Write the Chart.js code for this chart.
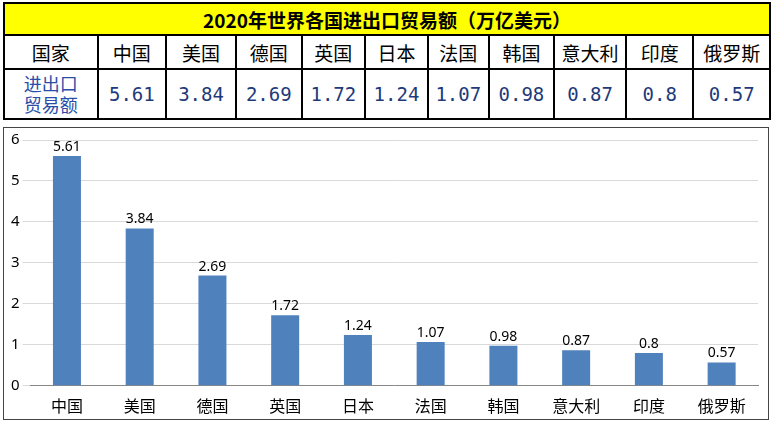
<!DOCTYPE html>
<html><head><meta charset="utf-8">
<script src="https://cdn.jsdelivr.net/npm/chart.js@4"></script>
<style>
body{margin:0;width:776px;height:424px;background:#fff;font-family:"Noto Sans CJK SC",sans-serif;overflow:hidden}
table{position:absolute;left:3px;top:2px;border-collapse:collapse;width:768px}
td{border:2px solid #000;text-align:center;padding:0;font-size:19px}
.t{background:#ffff00;font-weight:bold;height:30px;font-size:19px}
.h td{height:32px;color:#000}
.v td{height:48px;color:#1f3a7a;font-family:"DejaVu Sans Mono",monospace;font-size:19px}
.v td.l{font-family:"Noto Sans CJK SC";color:#2a4ea8;line-height:21px;font-size:18px}
#box{position:absolute;left:3px;top:127px;width:766px;height:293px;border:1px solid #444;box-sizing:border-box}
canvas{display:block}
</style></head><body>
<table id="tb"></table>
<div id="box"><canvas id="c" width="764" height="291"></canvas></div>
<script>
const title="2020年世界各国进出口贸易额（万亿美元）";
const categories=["中国","美国","德国","英国","日本","法国","韩国","意大利","印度","俄罗斯"];
const values=[5.61,3.84,2.69,1.72,1.24,1.07,0.98,0.87,0.8,0.57];
const valueLabels=["5.61","3.84","2.69","1.72","1.24","1.07","0.98","0.87","0.8","0.57"];
const widths=[98,68,70,65,63,62,60,65,72,68,77];
let h='<tr><td class="t" colspan="11">'+title+'</td></tr><tr class="h"><td style="width:'+widths[0]+'px">国家</td>';
categories.forEach((c,i)=>h+='<td style="width:'+widths[i+1]+'px">'+c+'</td>');
h+='</tr><tr class="v"><td class="l">进出口<br>贸易额</td>';
valueLabels.forEach(v=>h+='<td>'+v+'</td>');
h+='</tr>';
document.getElementById('tb').innerHTML=h;
const lbl={id:'lbl',afterDatasetsDraw(ch){const x=ch.ctx;const m=ch.getDatasetMeta(0);x.save();x.font='14px "Noto Sans", sans-serif';x.fillStyle='#000';x.textAlign='center';x.textBaseline='bottom';m.data.forEach((b,i)=>x.fillText(valueLabels[i],b.x,b.y-2));x.restore();}};
new Chart(document.getElementById('c'),{type:'bar',data:{labels:categories,datasets:[{data:values,backgroundColor:'#4f81bd',barPercentage:0.55,categoryPercentage:0.7}]},
options:{responsive:false,animation:false,devicePixelRatio:1,layout:{padding:{top:10,right:10,left:4,bottom:0}},
plugins:{legend:{display:false},tooltip:{enabled:false}},
scales:{y:{min:0,max:6,ticks:{stepSize:1,color:'#000',font:{size:15,family:'"Noto Sans"'}},grid:{color:'#d9d9d9'},border:{display:false}},
x:{ticks:{color:'#000',maxRotation:0,autoSkip:false,font:{size:16,family:'"Noto Sans CJK SC"'}},grid:{display:false},border:{color:'#888'}}}},plugins:[lbl]});
</script>
</body></html>
